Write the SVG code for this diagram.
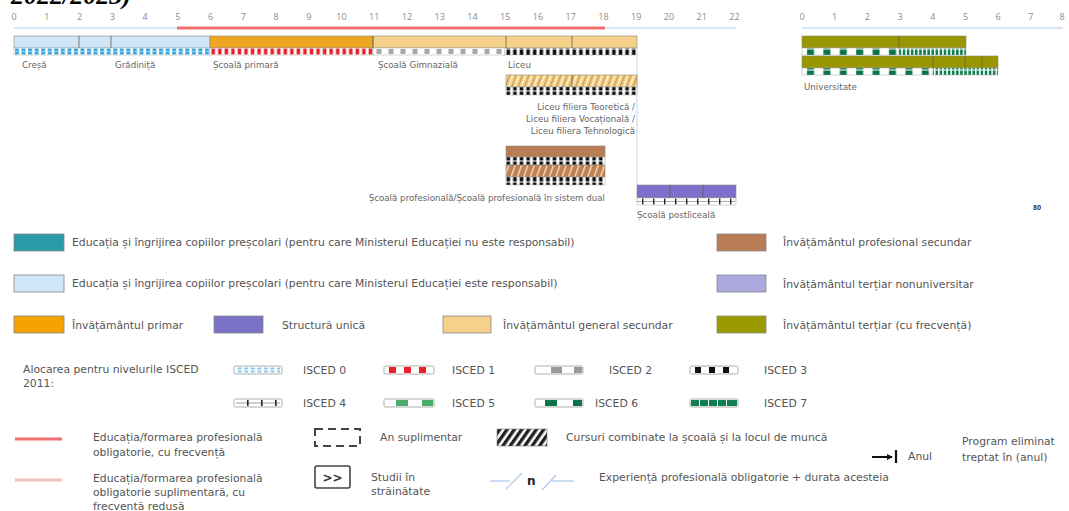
<svg xmlns="http://www.w3.org/2000/svg" width="1069" height="511" viewBox="0 0 1069 511">
<defs>
<style>
.ax{font-family:"Open Sans","Liberation Sans",sans-serif;font-size:9px;fill:#8a8a8a;text-anchor:middle}
.lb{font-family:"DejaVu Sans","Liberation Sans",sans-serif;font-size:8.7px;fill:#666}
.lg{font-family:"DejaVu Sans","Liberation Sans",sans-serif;font-size:10.8px;fill:#555}
.sw{stroke:#888;stroke-width:0.8}
.bar{stroke:#8a8a7a;stroke-width:0.6}
.div{stroke:#6a5a40;stroke-width:0.8}
.strip{stroke:#aaa;stroke-width:0.5}
</style>
<pattern id="p0" patternUnits="userSpaceOnUse" x="14" y="48" width="6.55" height="7"><rect width="6.55" height="7" fill="#fff"/><rect x="1" y="0.5" width="4" height="6" fill="#3aa6dd"/><rect x="1" y="3.2" width="4" height="0.7" fill="#bfe3f5"/></pattern>
<pattern id="p1" patternUnits="userSpaceOnUse" x="210" y="48" width="6.55" height="7"><rect width="6.55" height="7" fill="#fff"/><rect x="1.5" y="0.5" width="3.5" height="6" fill="#e8202a"/></pattern>
<pattern id="p2" patternUnits="userSpaceOnUse" x="373" y="48" width="12" height="7"><rect width="12" height="7" fill="#fff"/><rect x="3.5" y="1" width="5" height="5" fill="#a8a8a8"/></pattern>
<pattern id="p3" patternUnits="userSpaceOnUse" x="505" y="0" width="6.6" height="7"><rect width="6.6" height="7" fill="#fff"/><rect x="1.5" y="0.5" width="3.6" height="6" fill="#111"/></pattern>
<pattern id="p4" patternUnits="userSpaceOnUse" x="637" y="198" width="11" height="7"><rect width="11" height="7" fill="#fff"/><rect x="0" y="3" width="11" height="0.8" fill="#999"/><rect x="5" y="0.5" width="1.4" height="6" fill="#222"/></pattern>
<pattern id="p6" patternUnits="userSpaceOnUse" x="802" y="0" width="16.4" height="7"><rect width="16.4" height="7" fill="#fff"/><rect x="5" y="0.5" width="7" height="6" fill="#0a7448"/></pattern>
<pattern id="p7" patternUnits="userSpaceOnUse" x="0" y="0" width="4.1" height="7"><rect width="4.1" height="7" fill="#fff"/><rect x="0.7" y="0.5" width="2.6" height="6" fill="#0f8050"/></pattern>
<pattern id="hy" patternUnits="userSpaceOnUse" width="6" height="6" patternTransform="rotate(20)"><rect width="6" height="6" fill="#f6d18a"/><rect x="0" width="1.3" height="6" fill="#c99d4e"/><rect x="3" width="1" height="6" fill="#fff6e0"/></pattern>
<pattern id="hb" patternUnits="userSpaceOnUse" width="6" height="6" patternTransform="rotate(20)"><rect width="6" height="6" fill="#c0804f"/><rect x="0" width="1.3" height="6" fill="#f3e2d4"/></pattern>
<pattern id="hk" patternUnits="userSpaceOnUse" width="6" height="6" patternTransform="rotate(35)"><rect width="6" height="6" fill="#fff"/><rect x="0" width="3.4" height="6" fill="#222"/></pattern>
<marker id="ah" markerWidth="6" markerHeight="6" refX="5" refY="3" orient="auto" markerUnits="userSpaceOnUse"><path d="M0,0 L6,3 L0,6 z" fill="#111"/></marker>
</defs>
<rect width="1069" height="511" fill="#fff"/>

<text x="11" y="4" font-family="Liberation Serif,serif" font-size="26" font-weight="bold" font-style="italic" fill="#000">2022/2023)</text>

<g id="axis-left">
<line x1="14" y1="28" x2="736" y2="28" stroke="#d6e6f6" stroke-width="2"/>
<line x1="177" y1="28" x2="605" y2="28" stroke="#f07070" stroke-width="3"/>
<text class="ax" x="14" y="20">0</text><text class="ax" x="46.75" y="20">1</text><text class="ax" x="79.5" y="20">2</text><text class="ax" x="112.25" y="20">3</text><text class="ax" x="145" y="20">4</text><text class="ax" x="177.75" y="20">5</text><text class="ax" x="210.5" y="20">6</text><text class="ax" x="243.25" y="20">7</text><text class="ax" x="276" y="20">8</text><text class="ax" x="308.75" y="20">9</text><text class="ax" x="341.5" y="20">10</text><text class="ax" x="374.25" y="20">11</text><text class="ax" x="407" y="20">12</text><text class="ax" x="439.75" y="20">13</text><text class="ax" x="472.5" y="20">14</text><text class="ax" x="505.25" y="20">15</text><text class="ax" x="538" y="20">16</text><text class="ax" x="570.75" y="20">17</text><text class="ax" x="603.5" y="20">18</text><text class="ax" x="636.25" y="20">19</text><text class="ax" x="669" y="20">20</text><text class="ax" x="701.75" y="20">21</text><text class="ax" x="734.5" y="20">22</text>
</g>

<g id="axis-right">
<line x1="802" y1="28" x2="1063" y2="28" stroke="#d6e6f6" stroke-width="2"/>
<text class="ax" x="802" y="20">0</text><text class="ax" x="834.7" y="20">1</text><text class="ax" x="867.4" y="20">2</text><text class="ax" x="900.1" y="20">3</text><text class="ax" x="932.8" y="20">4</text><text class="ax" x="965.5" y="20">5</text><text class="ax" x="998.2" y="20">6</text><text class="ax" x="1030.9" y="20">7</text><text class="ax" x="1062" y="20">8</text>
</g>

<g id="connectors">
<line x1="637" y1="55" x2="637" y2="185" stroke="#cfe0f4" stroke-width="1.3"/>
</g>

<g id="cresa-gradinita">
<rect class="bar" x="14" y="36" width="196" height="12" fill="#cfe5f8"/>
<line class="div" x1="79" y1="36" x2="79" y2="48" stroke="#7a8aa0"/>
<line class="div" x1="111" y1="36" x2="111" y2="48" stroke="#7a8aa0"/>
<rect class="strip" x="14" y="48" width="196" height="7" fill="url(#p0)"/>
<text class="lb" x="22" y="68">Creșă</text>
<text class="lb" x="115" y="68">Grădiniță</text>
</g>

<g id="scoala-primara">
<rect class="bar" x="210" y="36" width="163" height="12" fill="#eea620"/>
<rect class="strip" x="210" y="48" width="163" height="7" fill="url(#p1)"/>
<text class="lb" x="213" y="68">Școală primară</text>
</g>

<g id="scoala-gimnaziala-liceu">
<rect class="bar" x="373" y="36" width="264" height="12" fill="#f6d18a"/>
<line class="div" x1="373" y1="36" x2="373" y2="48"/>
<line class="div" x1="506" y1="36" x2="506" y2="48"/>
<line class="div" x1="572" y1="36" x2="572" y2="48"/>
<rect class="strip" x="373" y="48" width="132" height="7" fill="url(#p2)"/>
<rect class="strip" x="505" y="48" width="132" height="7" fill="url(#p3)"/>
<text class="lb" x="378" y="68">Școală Gimnazială</text>
<text class="lb" x="508" y="68">Liceu</text>
</g>

<g id="liceu-filiera">
<rect class="bar" x="506" y="75" width="131" height="12" fill="url(#hy)"/>
<line class="div" x1="572" y1="75" x2="572" y2="87"/>
<rect class="strip" x="506" y="87" width="131" height="8" fill="url(#p3)"/>
<text class="lb" x="635" y="110" text-anchor="end">Liceu filiera Teoretică /</text>
<text class="lb" x="635" y="122" text-anchor="end">Liceu filiera Vocațională /</text>
<text class="lb" x="635" y="134" text-anchor="end">Liceu filiera Tehnologică</text>
</g>

<g id="scoala-profesionala">
<rect class="bar" x="506" y="146" width="99" height="11" fill="#b97d55"/>
<rect class="strip" x="506" y="157" width="99" height="8" fill="url(#p3)"/>
<rect class="bar" x="506" y="165" width="99" height="12" fill="url(#hb)"/>
<rect class="strip" x="506" y="177" width="99" height="8" fill="url(#p3)"/>
<text class="lb" x="605" y="201" text-anchor="end">Școală profesională/Școală profesională în sistem dual</text>
</g>

<g id="scoala-postliceala">
<rect class="bar" x="637" y="185" width="99" height="13" fill="#7c70cc"/>
<line class="div" x1="670" y1="185" x2="670" y2="198" stroke="#4a408a"/>
<line class="div" x1="703" y1="185" x2="703" y2="198" stroke="#4a408a"/>
<rect class="strip" x="637" y="198" width="99" height="7" fill="url(#p4)"/>
<text class="lb" x="637" y="218">Școală postliceală</text>
</g>

<g id="universitate">
<rect class="bar" x="802" y="36" width="164" height="12" fill="#9a9600"/>
<line class="div" x1="899" y1="36" x2="899" y2="48" stroke="#4a4a00"/>
<rect class="strip" x="802" y="48" width="97" height="7" fill="url(#p6)"/>
<rect class="strip" x="899" y="48" width="67" height="7" fill="url(#p7)"/>
<rect class="bar" x="802" y="56" width="196" height="12" fill="#9a9600"/>
<line class="div" x1="933" y1="56" x2="933" y2="68" stroke="#4a4a00"/>
<line class="div" x1="965" y1="56" x2="965" y2="68" stroke="#4a4a00"/>
<line class="div" x1="982" y1="56" x2="982" y2="68" stroke="#4a4a00"/>
<rect class="strip" x="802" y="68" width="131" height="7" fill="url(#p6)"/>
<rect class="strip" x="933" y="68" width="65" height="7" fill="url(#p7)"/>
<text class="lb" x="804" y="90">Universitate</text>
</g>

<text x="1033" y="210" font-family="Open Sans,Liberation Sans,sans-serif" font-size="7" font-weight="bold" fill="#333">80</text>

<g id="legend-colours">
<rect class="sw" x="14" y="234" width="50" height="17" fill="#2a9aa8"/>
<text class="lg" x="72" y="246">Educația și îngrijirea copiilor preșcolari (pentru care Ministerul Educației nu este responsabil)</text>
<rect class="sw" x="14" y="275" width="50" height="17" fill="#d0e6fa"/>
<text class="lg" x="72" y="287">Educația și îngrijirea copiilor preșcolari (pentru care Ministerul Educației este responsabil)</text>
<rect class="sw" x="14" y="316" width="50" height="17" fill="#f5a300"/>
<text class="lg" x="72" y="329">Învățământul primar</text>
<rect class="sw" x="214" y="316" width="49" height="17" fill="#7a72c8"/>
<text class="lg" x="282" y="329">Structură unică</text>
<rect class="sw" x="443" y="316" width="48" height="17" fill="#f6d18a"/>
<text class="lg" x="503" y="329">Învățământul general secundar</text>
<rect class="sw" x="717" y="234" width="49" height="17" fill="#b97d55"/>
<text class="lg" x="783" y="246">Învățământul profesional secundar</text>
<rect class="sw" x="717" y="275" width="49" height="17" fill="#aba8dd"/>
<text class="lg" x="783" y="288">Învățământul terțiar nonuniversitar</text>
<rect class="sw" x="717" y="316" width="49" height="17" fill="#999900"/>
<text class="lg" x="783" y="329">Învățământul terțiar (cu frecvență)</text>
</g>

<g id="legend-isced">
<text class="lg" x="23" y="373">Alocarea pentru nivelurile ISCED</text>
<text class="lg" x="23" y="387">2011:</text>
<rect x="234" y="366" width="48" height="8" rx="1.5" fill="#fff" stroke="#999" stroke-width="0.8"/>
<rect x="236" y="367.5" width="44" height="5" fill="url(#p0)" opacity="0.6"/>
<text class="lg" x="303" y="374">ISCED 0</text>
<rect x="384" y="366" width="50" height="8" rx="1.5" fill="#fff" stroke="#999" stroke-width="0.8"/>
<rect x="389" y="367" width="7" height="6" fill="#e8202a"/><rect x="404" y="367" width="7" height="6" fill="#e8202a"/><rect x="419" y="367" width="7" height="6" fill="#e8202a"/>
<text class="lg" x="452" y="374">ISCED 1</text>
<rect x="535" y="366" width="48" height="8" rx="1.5" fill="#fff" stroke="#999" stroke-width="0.8"/>
<rect x="551" y="367" width="11" height="6" fill="#999"/><rect x="574" y="367" width="8" height="6" fill="#999"/>
<text class="lg" x="609" y="374">ISCED 2</text>
<rect x="690" y="366" width="48" height="8" rx="1.5" fill="#fff" stroke="#999" stroke-width="0.8"/>
<rect x="695" y="367" width="6" height="6" fill="#111"/><rect x="709" y="367" width="6" height="6" fill="#111"/><rect x="723" y="367" width="6" height="6" fill="#111"/>
<text class="lg" x="764" y="374">ISCED 3</text>
<rect x="234" y="399" width="48" height="8" rx="1.5" fill="#fff" stroke="#999" stroke-width="0.8"/>
<line x1="236" y1="403" x2="280" y2="403" stroke="#888" stroke-width="0.8"/>
<rect x="247" y="400" width="1.6" height="6" fill="#222"/><rect x="261" y="400" width="1.6" height="6" fill="#222"/><rect x="275" y="400" width="1.6" height="6" fill="#222"/>
<text class="lg" x="303" y="407">ISCED 4</text>
<rect x="384" y="399" width="50" height="8" rx="1.5" fill="#fff" stroke="#999" stroke-width="0.8"/>
<rect x="396" y="400" width="12" height="6" fill="#4caa6a"/><rect x="422" y="400" width="11" height="6" fill="#4caa6a"/>
<text class="lg" x="452" y="407">ISCED 5</text>
<rect x="535" y="399" width="48" height="8" rx="1.5" fill="#fff" stroke="#999" stroke-width="0.8"/>
<rect x="545" y="400" width="12" height="6" fill="#0a7448"/><rect x="573" y="400" width="9" height="6" fill="#0a7448"/>
<text class="lg" x="595" y="407">ISCED 6</text>
<rect x="690" y="399" width="48" height="8" rx="1.5" fill="#fff" stroke="#999" stroke-width="0.8"/>
<rect x="691" y="400" width="46" height="6" fill="#0f8050"/>
<rect x="699" y="400" width="1" height="6" fill="#fff"/><rect x="708" y="400" width="1" height="6" fill="#fff"/><rect x="717" y="400" width="1" height="6" fill="#fff"/><rect x="726" y="400" width="1" height="6" fill="#fff"/>
<text class="lg" x="764" y="407">ISCED 7</text>
</g>

<g id="legend-symbols">
<line x1="15" y1="439" x2="62" y2="439" stroke="#f07070" stroke-width="3"/>
<text class="lg" x="93" y="441">Educația/formarea profesională</text>
<text class="lg" x="93" y="456">obligatorie, cu frecvență</text>
<line x1="15" y1="480" x2="62" y2="480" stroke="#f8c0c0" stroke-width="3"/>
<text class="lg" x="93" y="482">Educația/formarea profesională</text>
<text class="lg" x="93" y="496">obligatorie suplimentară, cu</text>
<text class="lg" x="93" y="510">frecvență redusă</text>

<rect x="315" y="429" width="45" height="17" fill="none" stroke="#444" stroke-width="2" stroke-dasharray="8 5"/>
<text class="lg" x="380" y="441">An suplimentar</text>

<rect x="315" y="466" width="35" height="22" rx="2" fill="#fff" stroke="#444" stroke-width="1.6"/>
<text x="332.5" y="482" font-family="DejaVu Sans,sans-serif" font-size="12" font-weight="bold" fill="#333" text-anchor="middle">&gt;&gt;</text>
<text class="lg" x="371" y="481">Studii în</text>
<text class="lg" x="371" y="495">străinătate</text>

<rect x="497" y="429" width="50" height="17" fill="url(#hk)" stroke="#777" stroke-width="0.6"/>
<text class="lg" x="566" y="441">Cursuri combinate la școală și la locul de muncă</text>

<polyline points="490,481 510,481" fill="none" stroke="#a9c8e8" stroke-width="1.2"/>
<line x1="506" y1="489" x2="522" y2="473" stroke="#a9c8e8" stroke-width="1.2"/>
<text x="527" y="485" font-family="DejaVu Sans,sans-serif" font-size="12" font-weight="bold" fill="#222">n</text>
<line x1="542" y1="490" x2="556" y2="475" stroke="#a9c8e8" stroke-width="1.2"/>
<line x1="552" y1="481" x2="574" y2="481" stroke="#a9c8e8" stroke-width="1.2"/>
<text class="lg" x="599" y="481">Experiență profesională obligatorie + durata acesteia</text>

<line x1="872" y1="457" x2="892" y2="457" stroke="#111" stroke-width="2" marker-end="url(#ah)"/>
<line x1="896" y1="450" x2="896" y2="463" stroke="#111" stroke-width="2.2"/>
<text class="lg" x="908" y="460">Anul</text>
<text class="lg" x="962" y="445">Program eliminat</text>
<text class="lg" x="962" y="461">treptat în (anul)</text>
</g>
</svg>
